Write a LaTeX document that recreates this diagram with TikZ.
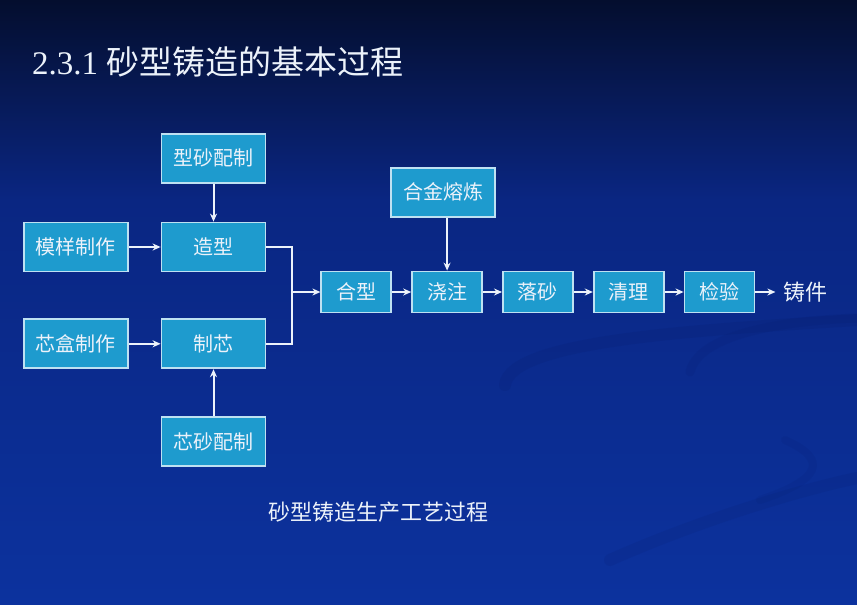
\documentclass[tikz,border=0pt]{standalone}
\usepackage{fontspec}
\setmainfont{Liberation Serif}
\newfontfamily\cjk{Noto Sans CJK SC}
\usepackage{tikz}
\usetikzlibrary{arrows.meta,positioning,calc}
\definecolor{bgtop}{RGB}{4,14,46}
\definecolor{bgmid}{RGB}{10,38,130}
\definecolor{bgbot}{RGB}{12,50,158}
\definecolor{boxfill}{RGB}{30,155,206}
\definecolor{boxedge}{RGB}{190,225,242}
\definecolor{txtwhite}{RGB}{236,242,250}
\definecolor{swoosh}{RGB}{6,28,110}

\begin{document}
\begin{tikzpicture}[x=1pt, y=1pt, node distance=38pt and 32pt, >={Stealth[length=8pt,width=7pt]},
		stage/.style={draw=boxedge, fill=boxfill, line width=1.8pt, rectangle, minimum width=104pt, minimum height=49pt, inner sep=0pt, text=txtwhite, font=\cjk\fontsize{20}{20}\selectfont},
		ministage/.style={stage, minimum width=70pt, minimum height=41pt},
		plain/.style={draw=none, inner sep=0pt, text=txtwhite},
		flow/.style={line width=2pt, ->, color=txtwhite},
		feed/.style={line width=2pt, -, color=txtwhite}
		]
		
		% background of the slide
		\useasboundingbox (0,0) rectangle (857,-605);
		\fill[top color=bgtop, bottom color=bgmid] (0,0) rectangle (857,-200);
		\fill[top color=bgmid, bottom color=bgbot] (0,-200) rectangle (857,-605);
		\draw[swoosh, line width=12pt, opacity=0.18, line cap=round] (505,-385) .. controls (510,-340) and (700,-330) .. (857,-320);
		\draw[swoosh, line width=9pt, opacity=0.15, line cap=round] (690,-372) .. controls (700,-330) and (800,-320) .. (857,-318);
		\draw[swoosh, line width=12pt, opacity=0.15, line cap=round] (610,-560) .. controls (700,-520) and (800,-490) .. (857,-478);
		\draw[swoosh, line width=8pt, opacity=0.12, line cap=round] (785,-440) .. controls (830,-460) and (820,-480) .. (760,-500);
		
		\node[plain, anchor=west](title) at (32,-62) {\fontsize{33}{33}\selectfont 2.3.1 {\cjk 砂型铸造的基本过程}};
		
		\node[stage](zaoxing) at (213.5,-247) {造型};
		\node[stage](xingsha) [above=of zaoxing] {型砂配制};
		\node[stage](moyang) [left=of zaoxing] {模样制作};
		\node[stage](zhixin) [below=46pt of zaoxing] {制芯};
		\node[stage](xinhe) [left=of zhixin] {芯盒制作};
		\node[stage](xinsha) [below=47pt of zhixin] {芯砂配制};
		
		\node[ministage](hexing) [right=54pt of zaoxing, yshift=-45pt] {合型};
		\node[ministage](jiaozhu) [right=19pt of hexing] {浇注};
		\node[ministage](luosha) [right=19pt of jiaozhu] {落砂};
		\node[ministage](qingli) [right=19pt of luosha] {清理};
		\node[ministage](jianyan) [right=19pt of qingli] {检验};
		\node[plain, inner sep=8pt, font=\cjk\fontsize{22}{22}\selectfont](zhujian) [right=20pt of jianyan] {铸件};
		\node[stage](hejin) [above=53pt of jiaozhu, xshift=-4pt] {合金熔炼};
		
		\node[plain, font=\cjk\fontsize{22}{22}\selectfont](caption) at (378,-512) {砂型铸造生产工艺过程};
		
		\coordinate (jn) at ($(hexing.west)+(-28,0)$);
		
		\draw [flow] (xingsha) to [] node[]{} (zaoxing);
		\draw [flow] (moyang) to [] node[]{} (zaoxing);
		\draw [flow] (xinhe) to [] node[]{} (zhixin);
		\draw [flow] (xinsha) to [] node[]{} (zhixin);
		\draw [feed] (zaoxing.east) -| (jn) |- (zhixin.east);
		\draw [flow] (jn) to [] node[]{} (hexing);
		\draw [flow] (hexing) to [] node[]{} (jiaozhu);
		\draw [flow] (jiaozhu) to [] node[]{} (luosha);
		\draw [flow] (luosha) to [] node[]{} (qingli);
		\draw [flow] (qingli) to [] node[]{} (jianyan);
		\draw [flow] (jianyan) to [] node[]{} (zhujian);
		\draw [flow] (hejin.south -| jiaozhu.north) to [] node[]{} (jiaozhu.north);
		\end{tikzpicture}
\end{document}
